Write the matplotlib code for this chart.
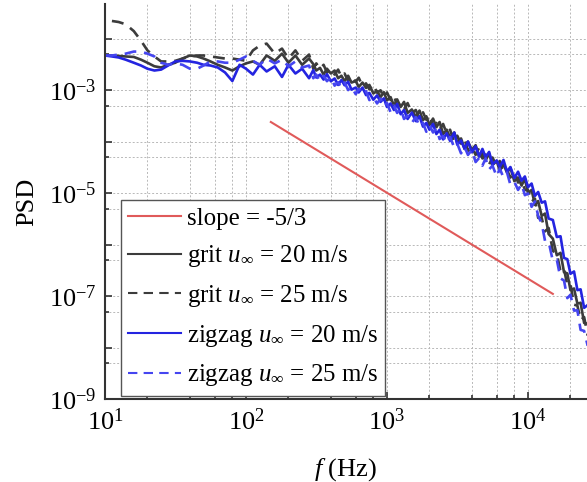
import matplotlib
matplotlib.use("Agg")
import matplotlib.pyplot as plt
import numpy as np
from matplotlib.ticker import LogLocator, NullFormatter

plt.rcParams['font.family'] = ['Liberation Serif', 'DejaVu Serif']
plt.rcParams['mathtext.fontset'] = 'custom'
plt.rcParams['mathtext.rm'] = 'Liberation Serif'
plt.rcParams['mathtext.it'] = 'Liberation Serif:italic'

# frequency grid (Hz), low part then high part
freq_low = [10, 11.2, 12.5, 14, 16, 18, 20, 22.4, 25, 28, 31.5, 35.5, 40, 45, 50, 56, 63, 71, 80, 90,
            100, 112, 125, 140, 160, 180, 200, 224, 250, 280]
freq_high = [300, 315, 335, 355, 375, 400, 425, 450, 475, 500, 530, 560, 600, 630, 670, 710, 750, 800, 850, 900, 950,
             1000, 1060, 1120, 1180, 1250, 1320, 1400, 1500, 1600, 1700, 1800, 1900, 2000, 2120, 2240, 2360, 2500,
             2650, 2800, 3000, 3150, 3350, 3550, 3750, 4000, 4250, 4500, 4750, 5000, 5300, 5600, 6000, 6300, 6700,
             7100, 7500, 8000, 8500, 9000, 9500,
             10000, 10600, 11200, 11800, 12500, 13200, 14000, 15000, 16000, 17000, 18000, 19000, 20000, 21200,
             22400, 23600, 25000, 26500]

grit20_low = [4.7e-3, 4.7e-3, 4.6e-3, 4.5e-3, 4.4e-3, 3.9e-3, 3.4e-3, 2.9e-3, 2.75e-3, 3.1e-3, 3.4e-3, 4.1e-3,
              4.7e-3, 4.5e-3, 4.1e-3, 3.6e-3, 3.1e-3, 2.75e-3, 2.4e-3, 2.9e-3, 3.3e-3, 3.6e-3, 3.1e-3, 4.7e-3,
              3.7e-3, 5.1e-3, 3.4e-3, 4.7e-3, 3.1e-3, 4.1e-3]
grit20_high = [3.2e-3, 2.4e-3, 2.7e-3, 2.0e-3, 2.6e-3, 2.1e-3, 2.4e-3, 1.7e-3, 1.9e-3, 1.5e-3, 1.9e-3, 1.4e-3,
               1.5e-3, 1.15e-3, 1.4e-3, 1.1e-3, 1.26e-3, 8.6e-4, 9.6e-4, 7.3e-4, 9.1e-4,
               6.3e-4, 7.3e-4, 5.0e-4, 6.6e-4, 4.7e-4, 5.9e-4, 3.6e-4, 4.2e-4, 3.0e-4, 4.0e-4, 2.6e-4, 3.1e-4,
               2.1e-4, 2.8e-4, 1.9e-4, 2.4e-4, 1.4e-4, 1.7e-4, 1.2e-4, 1.5e-4, 9.5e-5, 1.15e-4, 7.2e-5, 1.0e-4,
               6.9e-5, 8.5e-5, 5.0e-5, 6.0e-5, 4.3e-5, 5.9e-5, 3.5e-5, 4.2e-5, 2.7e-5, 3.6e-5, 2.5e-5, 3.1e-5,
               1.7e-5, 2.0e-5, 1.4e-5, 1.9e-5,
               9.9e-6, 1.15e-5, 5.9e-6, 7.0e-6, 3.6e-6, 4.0e-6, 1.6e-6, 1.3e-6, 6.2e-7, 6.9e-7, 2.9e-7, 2.75e-7,
               1.3e-7, 1.4e-7, 7.1e-8, 7.4e-8, 3.0e-8, 2.9e-8]

grit25_low = [None, 2.2e-2, 2.1e-2, 1.9e-2, 1.4e-2, 9.1e-3, 5.9e-3, 4.5e-3, 3.6e-3, 3.6e-3, 3.7e-3, 4.1e-3,
              4.5e-3, 4.7e-3, 4.7e-3, 4.5e-3, 4.3e-3, 4.1e-3, 4.1e-3, 3.9e-3, 3.7e-3, 5.9e-3, 7.3e-3, 8.0e-3,
              5.1e-3, 6.4e-3, 4.1e-3, 5.9e-3, 3.7e-3, 4.9e-3]
grit25_high = [2.6e-3, 3.3e-3, 2.6e-3, 3.1e-3, 2.2e-3, 2.5e-3, 2.0e-3, 2.5e-3, 1.8e-3, 2.1e-3, 1.5e-3, 1.9e-3,
               1.45e-3, 1.74e-3, 1.2e-3, 1.35e-3, 1.03e-3, 1.29e-3, 8.9e-4, 9.9e-4, 7.2e-4,
               9.0e-4, 6.4e-4, 7.9e-4, 4.9e-4, 5.7e-4, 4.25e-4, 5.6e-4, 3.6e-4, 4.1e-4, 2.75e-4, 3.7e-4, 2.65e-4,
               3.3e-4, 2.0e-4, 2.3e-4, 1.7e-4, 2.2e-4, 1.44e-4, 1.7e-4, 9.5e-5, 1.3e-4, 9.1e-5, 1.12e-4, 6.6e-5,
               7.9e-5, 5.5e-5, 7.6e-5, 4.7e-5, 5.6e-5, 3.6e-5, 4.9e-5, 3.3e-5, 4.2e-5, 2.4e-5, 2.8e-5, 2.0e-5,
               2.6e-5, 1.6e-5, 1.8e-5, 1.15e-5,
               1.14e-5, 6.8e-6, 7.8e-6, 3.3e-6, 3.3e-6, 1.8e-6, 2.1e-6, 7.5e-7, 6.8e-7, 3.0e-7, 3.4e-7, 1.6e-7,
               1.7e-7, 6.8e-8, 6.5e-8, 3.4e-8, 3.9e-8, 1.7e-8]

zig20_low = [4.7e-3, 4.5e-3, 4.3e-3, 3.9e-3, 3.4e-3, 3.0e-3, 2.6e-3, 2.4e-3, 2.5e-3, 3.0e-3, 3.6e-3, 3.7e-3,
             3.6e-3, 3.4e-3, 3.1e-3, 3.0e-3, 2.75e-3, 2.2e-3, 1.5e-3, 3.1e-3, 2.6e-3, 2.0e-3, 3.1e-3, 2.3e-3,
             2.9e-3, 1.8e-3, 3.1e-3, 2.1e-3, 2.6e-3, 1.7e-3]
zig20_high = [2.45e-3, 1.75e-3, 2.0e-3, 1.6e-3, 2.04e-3, 1.48e-3, 1.68e-3, 1.26e-3, 1.57e-3, 1.24e-3, 1.45e-3,
              1.02e-3, 1.12e-3, 9.0e-4, 1.12e-3, 8.0e-4, 8.8e-4, 6.5e-4, 7.9e-4, 5.9e-4, 6.9e-4,
              4.7e-4, 5.5e-4, 4.1e-4, 5.4e-4, 3.4e-4, 4.1e-4, 2.75e-4, 3.65e-4, 2.5e-4, 3.1e-4, 1.95e-4, 2.3e-4,
              1.7e-4, 2.2e-4, 1.4e-4, 1.7e-4, 1.1e-4, 1.45e-4, 1.03e-4, 1.5e-4, 8.7e-5, 1.05e-4, 7.2e-5, 1.0e-4,
              6.2e-5, 8.1e-5, 5.2e-5, 7.2e-5, 5.0e-5, 6.3e-5, 3.6e-5, 4.3e-5, 3.2e-5, 4.4e-5, 2.6e-5, 3.2e-5,
              1.95e-5, 2.6e-5, 1.74e-5, 2.1e-5,
              1.3e-5, 1.53e-5, 8.8e-6, 1.05e-5, 6.5e-6, 6.9e-6, 3.2e-6, 3.0e-6, 1.4e-6, 1.45e-6, 5.5e-7, 5.2e-7,
              2.7e-7, 3.0e-7, 1.3e-7, 1.35e-7, 5.9e-8, 6.7e-8]

zig25_low = [4.7e-3, 4.7e-3, 4.9e-3, 5.1e-3, 5.6e-3, 5.6e-3, 5.1e-3, 4.5e-3, 3.4e-3, 3.1e-3, 3.3e-3, 3.1e-3,
             2.6e-3, 2.6e-3, 3.0e-3, 3.6e-3, 3.6e-3, 3.4e-3, 3.4e-3, 3.9e-3, 4.5e-3, 3.7e-3, 3.1e-3, 4.1e-3,
             3.3e-3, 3.9e-3, 2.9e-3, 3.6e-3, 2.75e-3, 3.0e-3]
zig25_high = [1.7e-3, 2.0e-3, 1.48e-3, 1.9e-3, 1.49e-3, 1.78e-3, 1.22e-3, 1.42e-3, 1.1e-3, 1.41e-3, 1.0e-3,
              1.16e-3, 8.3e-4, 1.06e-3, 8.2e-4, 9.5e-4, 6.4e-4, 7.3e-4, 5.5e-4, 6.8e-4, 4.8e-4,
              5.6e-4, 3.7e-4, 5.0e-4, 3.6e-4, 4.4e-4, 2.75e-4, 3.2e-4, 2.3e-4, 3.0e-4, 1.94e-4, 2.3e-4, 1.55e-4,
              2.1e-4, 1.5e-4, 1.78e-4, 1.12e-4, 1.28e-4, 9.3e-5, 1.23e-4, 7.6e-5, 9.1e-5, 5.9e-5, 7.9e-5, 5.5e-5,
              6.9e-5, 4.0e-5, 4.8e-5, 3.4e-5, 4.7e-5, 2.9e-5, 3.4e-5, 2.1e-5, 3.0e-5, 2.0e-5, 2.5e-5, 1.45e-5,
              1.66e-5, 1.15e-5, 1.5e-5, 9.1e-6,
              9.8e-6, 5.4e-6, 6.9e-6, 3.6e-6, 2.6e-6, 1.18e-6, 1.14e-6, 4.8e-7, 5.1e-7, 2.2e-7, 2.0e-7, 9.1e-8,
              1.06e-7, 5.2e-8, 5.3e-8, 2.2e-8, 2.1e-8, 1.08e-8]

# -5/3 reference line end points
slope_f = [150, 15000]
slope_psd = [2.4e-4, 1.1e-7]

freq = np.array(freq_low + freq_high, dtype=float)

def series(low, high):
    vals = [np.nan if v is None else v for v in low] + high
    return np.array(vals, dtype=float)

fig = plt.figure(figsize=(5.87, 4.82), dpi=100)
ax = fig.add_axes([105 / 587, 83 / 482, 482 / 587, 395 / 482])

red = '#e05a5a'
gray = '#3c3c3c'
blue = '#2424e0'
blue2 = '#4545f0'

l1, = ax.plot(slope_f, slope_psd, color=red, lw=1.5, zorder=5)
l2, = ax.plot(freq, series(grit20_low, grit20_high), color=gray, lw=1.9)
l3, = ax.plot(freq, series(grit25_low, grit25_high), color=gray, lw=1.9, dashes=(4.5, 3))
l4, = ax.plot(freq, series(zig20_low, zig20_high), color=blue, lw=1.9)
l5, = ax.plot(freq, series(zig25_low, zig25_high), color=blue2, lw=1.9, dashes=(4.5, 3))

ax.set_xscale('log')
ax.set_yscale('log')
ax.set_xlim(10, 26200)
ax.set_ylim(1e-9, 4.7e-2)

ax.set_xticks([1e1, 1e2, 1e3, 1e4])
ax.set_xticklabels([r'$10^{1}$', r'$10^{2}$', r'$10^{3}$', r'$10^{4}$'])
ax.xaxis.set_minor_locator(LogLocator(base=10, subs=(2, 4, 6, 8)))
ax.xaxis.set_minor_formatter(NullFormatter())

yt = [1e-9, 1e-8, 1e-7, 1e-6, 1e-5, 1e-4, 1e-3, 1e-2]
ax.set_yticks(yt)
ax.set_yticklabels([r'$10^{-9}$', '', r'$10^{-7}$', '', r'$10^{-5}$', '', r'$10^{-3}$', ''])
ax.yaxis.set_minor_locator(LogLocator(base=10, subs=(5,)))
ax.yaxis.set_minor_formatter(NullFormatter())

ax.tick_params(which='both', direction='in', colors='#333333', labelcolor='black', labelsize=19, width=1.2)
ax.tick_params(which='major', length=5)
ax.tick_params(which='minor', length=3)
ax.tick_params(axis='x', pad=7)
ax.tick_params(axis='y', pad=6)

ax.grid(True, which='both', linestyle=(0, (2, 2)), color='#b8b8b8', lw=0.7)
ax.set_axisbelow(True)

for s in ['top', 'right']:
    ax.spines[s].set_visible(False)
for s in ['left', 'bottom']:
    ax.spines[s].set_color('#333333')
    ax.spines[s].set_linewidth(1.5)

ax.set_xlabel(r'$f$ (Hz)', fontsize=19, labelpad=15)
ax.set_ylabel('PSD', fontsize=19, labelpad=8)

labels = ['slope = -5/3',
          r'grit $u_{\infty}$ = 20 m/s',
          r'grit $u_{\infty}$ = 25 m/s',
          r'zigzag $u_{\infty}$ = 20 m/s',
          r'zigzag $u_{\infty}$ = 25 m/s']
leg = ax.legend([l1, l2, l3, l4, l5], labels, loc='lower left', bbox_to_anchor=(0.033, 0.008),
                borderaxespad=0, fontsize=17.9, fancybox=False, framealpha=1, edgecolor='#555555',
                handlelength=2.1, handletextpad=0.25, borderpad=0.3, labelspacing=0.55)
leg.get_frame().set_linewidth(1.0)
for h in leg.get_lines():
    h.set_linewidth(1.5)

fig.savefig('out.png', dpi=100)
